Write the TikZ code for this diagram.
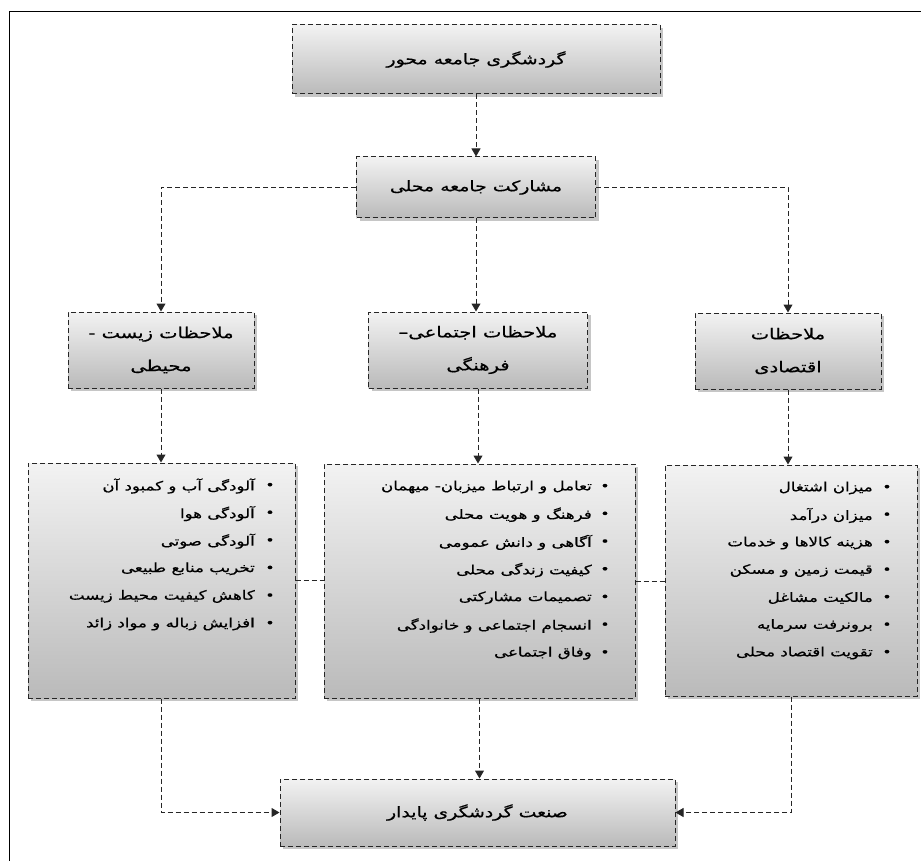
\documentclass[tikz,border=0pt]{standalone}
\usepackage{fontspec}
\newfontfamily\fa[Script=Arabic,FakeStretch=1.3,FakeBold=0.6]{DejaVu Sans}
\TeXXeTstate=1
\usetikzlibrary{arrows.meta,shadows,calc}
\begin{document}
\begin{tikzpicture}[x=1pt,y=-1pt,
  box/.style={draw=black!85, line width=1pt, dash pattern=on 5pt off 3pt,
    top color=black!5, bottom color=black!27,
    drop shadow={shadow xshift=3pt, shadow yshift=-3pt, fill=black!50, opacity=0.45},
    inner sep=0pt, font=\fa\fontsize{14.5}{33}\selectfont, align=center},
  lvl/.style={font=\fa\fontsize{15}{33}\selectfont},
  link/.style={draw=black!85, line width=1pt, dash pattern=on 5pt off 3pt},
  arr/.style={link, -{Triangle[width=9pt,length=8pt]}},
  item/.style={font=\fa\fontsize{12.8}{14}\selectfont, anchor=east, inner sep=0pt},
  dot/.style={font=\fa\fontsize{12}{14}\selectfont, inner sep=0pt}]
\useasboundingbox (0,0) rectangle (921,861);
\clip (0,0) rectangle (921,861);
\draw[line width=0.9pt] (9,11) rectangle (940,880);

% level 1-2
\node[box, minimum width=368, minimum height=69] (top) at (476,59.5) {\beginR گردشگری جامعه محور\endR};
\node[box, minimum width=239, minimum height=61] (mid) at (476,187.5) {\beginR مشارکت جامعه محلی\endR};

% level 3
\node[box, lvl, minimum width=186, minimum height=76] (envL) at (161,350) {\beginR ملاحظات زیست -\endR\\\beginR محیطی\endR};
\node[box, lvl, minimum width=219, minimum height=76] (socL) at (478,350) {\beginR ملاحظات اجتماعی–\endR\\\beginR فرهنگی\endR};
\node[box, lvl, minimum width=186, minimum height=76] (ecoL) at (788,351) {\beginR ملاحظات\endR\\\beginR اقتصادی\endR};

% level 4
\node[box, minimum width=267, minimum height=235] (envB) at (161.5,580.5) {};
\node[box, minimum width=311, minimum height=234] (socB) at (479.5,581) {};
\node[box, minimum width=252, minimum height=231] (ecoB) at (791,580.5) {};

% bottom
\node[box, minimum width=395, minimum height=67] (bot) at (477.5,812.5) {\beginR صنعت گردشگری پایدار\endR};

% list items
\foreach \t [count=\i] in {آلودگی آب و کمبود آن, آلودگی هوا, آلودگی صوتی, تخریب منابع طبیعی, کاهش کیفیت محیط زیست, افزایش زباله و مواد زائد}{
  \node[item] (envI\i) at (255,{486+(\i-1)*27.6}) {\beginR\t\endR};
  \node[dot] (envD\i) at (270,{486+(\i-1)*27.6}) {•};
}
\foreach \t [count=\i] in {تعامل و ارتباط میزبان- میهمان, فرهنگ و هویت محلی, آگاهی و دانش عمومی, کیفیت زندگی محلی, تصمیمات مشارکتی, انسجام اجتماعی و خانوادگی, وفاق اجتماعی}{
  \node[item] (socI\i) at (592,{487+(\i-1)*27.7}) {\beginR\t\endR};
  \node[dot] (socD\i) at (605,{487+(\i-1)*27.7}) {•};
}
\foreach \t [count=\i] in {میزان اشتغال, میزان درآمد, هزینه کالاها و خدمات, قیمت زمین و مسکن, مالکیت مشاغل, برونرفت سرمایه, تقویت اقتصاد محلی}{
  \node[item] (ecoI\i) at (873,{488+(\i-1)*27.5}) {\beginR\t\endR};
  \node[dot] (ecoD\i) at (887,{488+(\i-1)*27.5}) {•};
}

% connectors
\draw[arr] (top.south) -- (top.south |- mid.north);
\draw[arr] (mid.west) -| (envL.north);
\draw[arr] (mid.south) -- (mid.south |- socL.north);
\draw[arr] (mid.east) -| (ecoL.north);
\draw[arr] (envL.south) -- (envL.south |- envB.north);
\draw[arr] (socL.south) -- (socL.south |- socB.north);
\draw[arr] (ecoL.south) -- (ecoL.south |- ecoB.north);
\draw[link] (envB.east) -- (envB.east -| socB.west);
\draw[link] (socB.east) -- (socB.east -| ecoB.west);
\draw[arr] (socB.south) -- (socB.south |- bot.north);
\draw[arr] (envB.south) |- (bot.west);
\draw[arr] (ecoB.south) |- (bot.east);
\end{tikzpicture}
\end{document}
